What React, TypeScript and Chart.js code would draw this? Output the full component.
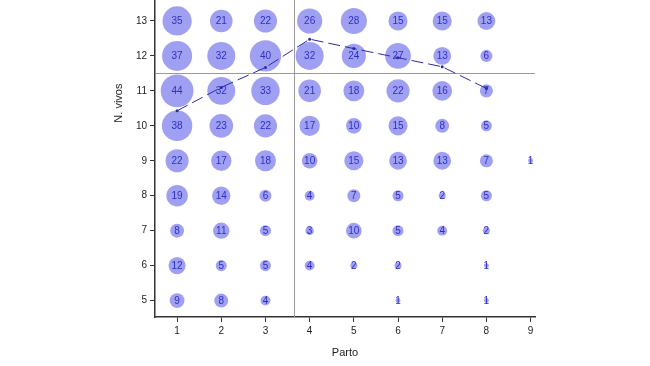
import React, { useEffect, useRef } from "react";
import { Chart, registerables } from "chart.js";

Chart.register(...registerables);

const parto = [1, 2, 3, 4, 5, 6, 7, 8, 9];
const nVivos = [13, 12, 11, 10, 9, 8, 7, 6, 5];
// counts per row (N. vivos from 13 down to 5), columns Parto 1..9
const row13 = [35, 21, 22, 26, 28, 15, 15, 13, null];
const row12 = [37, 32, 40, 32, 24, 27, 13, 6, null];
const row11 = [44, 32, 33, 21, 18, 22, 16, 7, null];
const row10 = [38, 23, 22, 17, 10, 15, 8, 5, null];
const row9 = [22, 17, 18, 10, 15, 13, 13, 7, 1];
const row8 = [19, 14, 6, 4, 7, 5, 2, 5, null];
const row7 = [8, 11, 5, 3, 10, 5, 4, 2, null];
const row6 = [12, 5, 5, 4, 2, 2, null, 1, null];
const row5 = [9, 8, 4, null, null, 1, null, 1, null];
const rows = [row13, row12, row11, row10, row9, row8, row7, row6, row5];

const meanParto = [1, 2, 3, 4, 5, 6, 7, 8];
const meanVivos = [10.43, 11.1, 11.67, 12.48, 12.21, 11.95, 11.69, 11.07];

const refParto = 3.65;
const refVivos = 11.51;

const xTicks = [1, 2, 3, 4, 5, 6, 7, 8, 9];
const yTicks = [5, 6, 7, 8, 9, 10, 11, 12, 13];

export default function App() {
  const ref = useRef<HTMLCanvasElement>(null);
  useEffect(() => {
    const bubbles: any[] = [];
    rows.forEach((row, ri) => {
      row.forEach((n, ci) => {
        if (n != null) bubbles.push({ x: parto[ci], y: nVivos[ri], r: 2.47 * Math.sqrt(n), n });
      });
    });
    const font = "'Liberation Sans', Arial, sans-serif";
    const plugin = {
      id: "extras",
      beforeDatasetsDraw(chart: any) {
        const { ctx, scales } = chart;
        const x = scales.x, y = scales.y;
        ctx.save();
        ctx.strokeStyle = "#9a9a9a";
        ctx.lineWidth = 1;
        const px = Math.round(x.getPixelForValue(refParto)) + 0.5;
        const py = Math.round(y.getPixelForValue(refVivos)) + 0.5;
        ctx.beginPath();
        ctx.moveTo(px, y.bottom);
        ctx.lineTo(px, y.top);
        ctx.moveTo(x.left, py);
        ctx.lineTo(x.right, py);
        ctx.stroke();
        ctx.restore();
      },
      afterDatasetsDraw(chart: any) {
        const { ctx, scales } = chart;
        const meta = chart.getDatasetMeta(0);
        ctx.save();
        ctx.font = `10px ${font}`;
        ctx.fillStyle = "#2e2ec4";
        ctx.textAlign = "center";
        ctx.textBaseline = "middle";
        meta.data.forEach((el: any, i: number) => {
          ctx.fillText(String(bubbles[i].n), el.x, el.y + 0.5);
        });
        // y axis title
        ctx.fillStyle = "#222";
        ctx.font = `11px ${font}`;
        ctx.translate(119, scales.y.getPixelForValue(10.65));
        ctx.rotate(-Math.PI / 2);
        ctx.fillText("N. vivos", 0, 0);
        ctx.restore();
      },
    };
    const chart = new Chart(ref.current!, {
      type: "bubble",
      data: {
        datasets: [
          {
            type: "bubble",
            data: bubbles,
            backgroundColor: "rgba(150,150,242,0.9)",
            borderColor: "rgba(150,150,242,0.9)",
            borderWidth: 0,
            clip: false,
            order: 1,
          } as any,
          {
            type: "line",
            data: meanParto.map((v, i) => ({ x: v, y: meanVivos[i] })),
            borderColor: "#2a2a9e",
            borderWidth: 1,
            borderDash: [12, 5],
            pointRadius: 1.5,
            pointBackgroundColor: "#2a2a9e",
            pointBorderWidth: 0,
            fill: false,
            tension: 0,
            order: 0,
          } as any,
        ],
      },
      options: {
        animation: false,
        responsive: false,
        layout: { autoPadding: false, padding: { top: 0, right: 115, left: 0, bottom: 0 } },
        plugins: { legend: { display: false }, tooltip: { enabled: false } },
        scales: {
          x: {
            type: "linear",
            min: 0.5,
            max: 9.1,
            afterFit: (s: any) => { s.height = 49; s.paddingLeft = 0; s.paddingRight = 0; },
            afterBuildTicks: (s: any) => { s.ticks = xTicks.map((v) => ({ value: v })); },
            grid: { display: true, drawOnChartArea: false, drawTicks: true, tickLength: 5, color: "#333" },
            border: { display: true, color: "#333", width: 1.5 },
            ticks: { color: "#222", font: { size: 10, family: font }, padding: 3, maxRotation: 0, autoSkip: false },
            title: { display: true, text: "Parto", color: "#222", font: { size: 11, family: font }, padding: { top: 4, bottom: 6 } },
          },
          y: {
            type: "linear",
            min: 4.53,
            max: 13.6,
            afterFit: (s: any) => { s.width = 155; s.paddingTop = 0; s.paddingBottom = 0; },
            afterBuildTicks: (s: any) => { s.ticks = yTicks.map((v) => ({ value: v })); },
            grid: { display: true, drawOnChartArea: false, drawTicks: true, tickLength: 5, color: "#333" },
            border: { display: true, color: "#333", width: 1.5 },
            ticks: { color: "#222", font: { size: 10, family: font }, padding: 3, autoSkip: false },
          },
        },
      },
      plugins: [plugin],
    });
    return () => chart.destroy();
  }, []);
  return (
    <div style={{ position: "absolute", left: 0, top: 0, width: 650, height: 366, background: "#fff" }}>
      <canvas ref={ref} width={650} height={366} style={{ width: 650, height: 366 }} />
    </div>
  );
}
